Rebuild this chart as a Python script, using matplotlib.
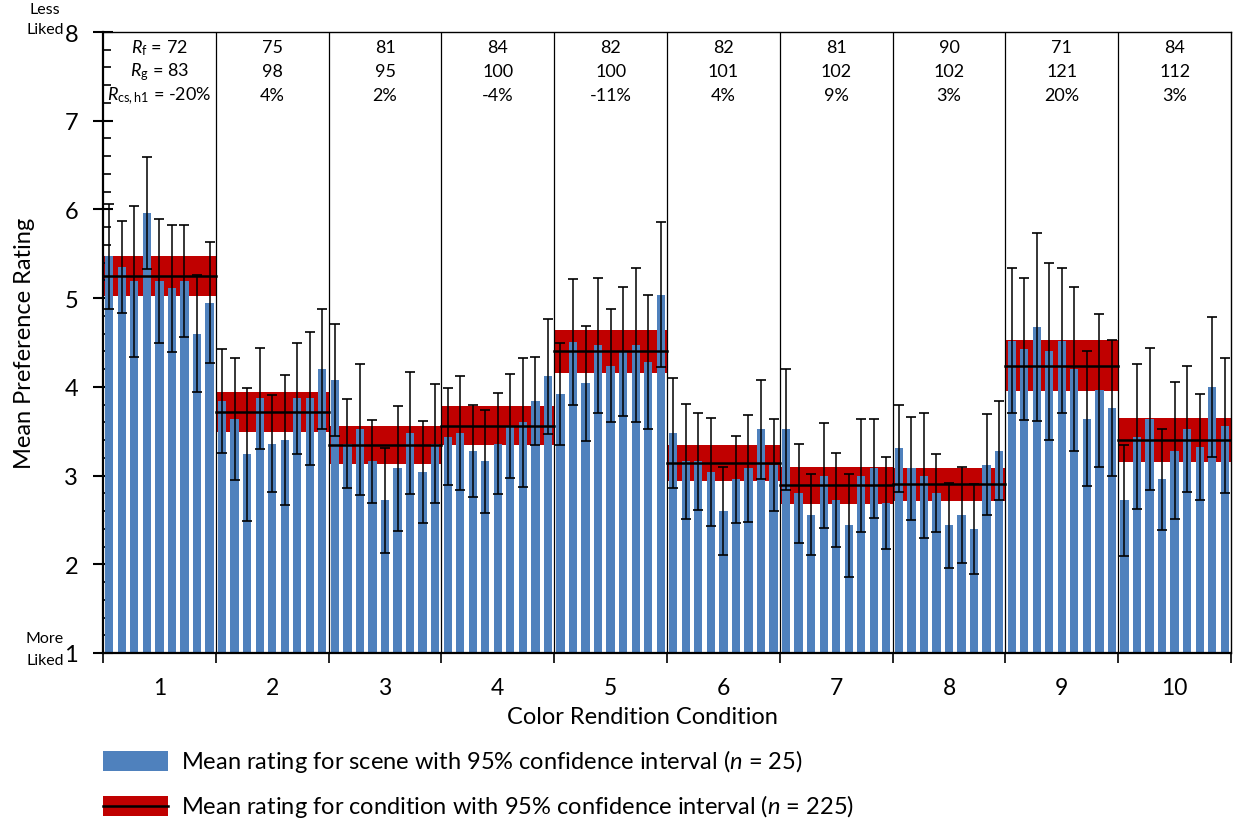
import matplotlib
matplotlib.use("Agg")
import matplotlib.pyplot as plt
from matplotlib.patches import Rectangle
from matplotlib.lines import Line2D
from matplotlib.ticker import MultipleLocator
import numpy as np

# ---------------- data ----------------
conditions = ["1", "2", "3", "4", "5", "6", "7", "8", "9", "10"]

scene_means = [
    [5.47, 5.35, 5.19, 5.96, 5.19, 5.11, 5.19, 4.60, 4.95],
    [3.84, 3.64, 3.24, 3.87, 3.36, 3.40, 3.87, 3.87, 4.20],
    [4.08, 3.36, 3.52, 3.16, 2.72, 3.08, 3.48, 3.04, 3.36],
    [3.44, 3.48, 3.28, 3.16, 3.36, 3.56, 3.60, 3.84, 4.12],
    [3.92, 4.51, 4.04, 4.47, 4.24, 4.40, 4.47, 4.28, 5.04],
    [3.48, 3.16, 3.16, 3.04, 2.60, 2.96, 3.08, 3.52, 3.12],
    [3.52, 2.80, 2.56, 3.00, 2.72, 2.44, 3.00, 3.08, 2.69],
    [3.31, 3.08, 3.00, 2.80, 2.44, 2.56, 2.40, 3.12, 3.28],
    [4.52, 4.43, 4.67, 4.40, 4.52, 4.20, 3.64, 3.96, 3.76],
    [2.72, 3.44, 3.64, 2.96, 3.28, 3.52, 3.32, 4.00, 3.56],
]
scene_ci = [
    [0.59, 0.52, 0.85, 0.63, 0.70, 0.72, 0.63, 0.66, 0.68],
    [0.59, 0.69, 0.75, 0.57, 0.55, 0.73, 0.63, 0.75, 0.68],
    [0.63, 0.50, 0.74, 0.47, 0.59, 0.70, 0.69, 0.57, 0.67],
    [0.55, 0.64, 0.52, 0.58, 0.57, 0.59, 0.73, 0.50, 0.65],
    [0.57, 0.71, 0.65, 0.76, 0.64, 0.73, 0.87, 0.76, 0.82],
    [0.62, 0.65, 0.55, 0.61, 0.50, 0.49, 0.60, 0.56, 0.52],
    [0.68, 0.56, 0.46, 0.59, 0.53, 0.58, 0.64, 0.56, 0.52],
    [0.49, 0.58, 0.70, 0.44, 0.48, 0.54, 0.51, 0.57, 0.56],
    [0.82, 0.80, 1.06, 1.00, 0.82, 0.92, 0.76, 0.86, 0.77],
    [0.63, 0.82, 0.80, 0.57, 0.77, 0.71, 0.60, 0.79, 0.76],
]
cond_means = [5.25, 3.72, 3.34, 3.56, 4.40, 3.14, 2.89, 2.90, 4.24, 3.40]
cond_ci = [0.23, 0.225, 0.215, 0.22, 0.245, 0.205, 0.21, 0.185, 0.29, 0.25]

rf_vals = ["72", "75", "81", "84", "82", "82", "81", "90", "71", "84"]
rg_vals = ["83", "98", "95", "100", "100", "101", "102", "102", "121", "112"]
rcs_vals = ["-20%", "4%", "2%", "-4%", "-11%", "4%", "9%", "3%", "20%", "3%"]

# ---------------- style ----------------
plt.rcParams['font.family'] = ['Lato', 'DejaVu Sans']
plt.rcParams['mathtext.fontset'] = 'custom'
plt.rcParams['mathtext.rm'] = 'Lato'
plt.rcParams['mathtext.it'] = 'Lato:italic'

BLUE = '#4F81BD'
RED = '#C00000'
W, H = 1233, 820

fig = plt.figure(figsize=(W / 100, H / 100), dpi=100)
ax = fig.add_axes([103 / W, 166 / H, 1128 / W, 621 / H])

n_scene = 9
for g in range(len(conditions)):
    x0 = g * n_scene
    xs = x0 + np.arange(n_scene) + 0.5
    m, c = cond_means[g], cond_ci[g]
    ax.add_patch(Rectangle((x0, m - c), n_scene, 2 * c, facecolor=RED,
                           edgecolor='none', zorder=1))
    ax.bar(xs, scene_means[g], width=0.66, color=BLUE, zorder=2)
    ax.plot([x0, x0 + n_scene], [m, m], color='black', lw=1.8, zorder=3)
    ax.errorbar(xs, scene_means[g], yerr=scene_ci[g], fmt='none',
                ecolor='black', elinewidth=1.1, capsize=3.6, capthick=1.2,
                zorder=4)
    xc = x0 + n_scene / 2
    if g == 0:
        t1 = r"$R_{\mathrm{f}}$ = " + rf_vals[g]
        t2 = r"$R_{\mathrm{g}}$ = " + rg_vals[g]
        t3 = r"$R_{\mathrm{cs,h1}}$ = " + rcs_vals[g]
    else:
        t1, t2, t3 = rf_vals[g], rg_vals[g], rcs_vals[g]
    for t, yv in zip((t1, t2, t3), (7.83, 7.56, 7.29)):
        ax.text(xc, yv, t, ha='center', va='center', fontsize=13, zorder=6)

for b in range(1, len(conditions)):
    ax.axvline(b * n_scene, color='black', lw=0.9, zorder=5)

ax.set_xlim(0, n_scene * len(conditions))
ax.set_ylim(1, 8)

ax.set_xticks(np.arange(0, n_scene * len(conditions) + 1, n_scene))
ax.set_xticklabels([])
ax.set_xticks(np.arange(n_scene / 2, n_scene * len(conditions), n_scene), minor=True)
ax.set_xticklabels(conditions, minor=True)
ax.tick_params(axis='x', which='major', direction='out', length=7, width=1.2)
ax.tick_params(axis='x', which='minor', length=0, pad=17, labelsize=16.5)

ax.set_yticks(range(1, 9))
ax.yaxis.set_minor_locator(MultipleLocator(0.2))
ax.tick_params(axis='y', which='major', direction='inout', length=14, width=1.5,
               labelsize=17, pad=11)
ax.tick_params(axis='y', which='minor', direction='in', length=6, width=1.2)

for s in ('left', 'bottom'):
    ax.spines[s].set_linewidth(1.6)
for s in ('top', 'right'):
    ax.spines[s].set_linewidth(1.0)

fig.text(25 / W, 1 - 343 / H, "Mean Preference Rating", rotation=90,
         ha='center', va='center', fontsize=17)
fig.text(642 / W, 1 - 718 / H, "Color Rendition Condition",
         ha='center', va='center', fontsize=17)
fig.text(45 / W, 1 - 20 / H, "Less\nLiked", ha='center', va='center',
         fontsize=11.5, linespacing=1.55)
fig.text(45 / W, 1 - 650 / H, "More\nLiked", ha='center', va='center',
         fontsize=11.5, linespacing=1.7)

# legend (drawn manually)
fig.add_artist(Rectangle((103 / W, 1 - 772 / H), 65 / W, 20 / H,
                         transform=fig.transFigure, facecolor=BLUE, edgecolor='none'))
fig.text(181 / W, 1 - 762 / H,
         "Mean rating for scene with 95% confidence interval ($n$ = 25)",
         ha='left', va='center', fontsize=17)
fig.add_artist(Rectangle((103 / W, 1 - 817 / H), 65 / W, 20 / H,
                         transform=fig.transFigure, facecolor=RED, edgecolor='none'))
fig.add_artist(Line2D([103 / W, 168 / W], [1 - 807 / H, 1 - 807 / H],
                      transform=fig.transFigure, color='black', lw=1.8))
fig.text(181 / W, 1 - 807 / H,
         "Mean rating for condition with 95% confidence interval ($n$ = 225)",
         ha='left', va='center', fontsize=17)

fig.savefig("out.png", dpi=100)
